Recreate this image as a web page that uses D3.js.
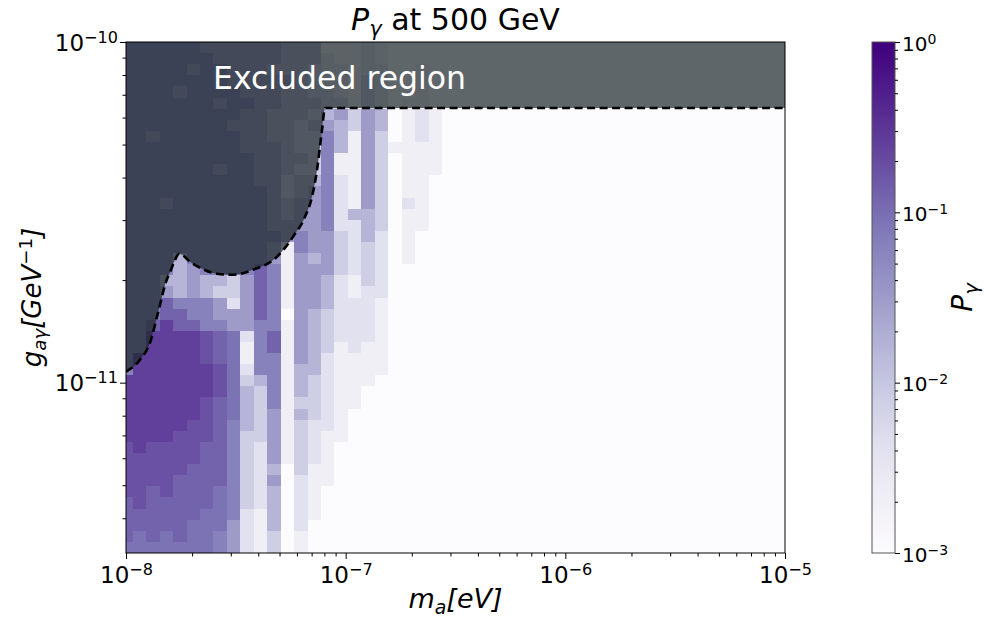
<!DOCTYPE html>
<html>
<head>
<meta charset="utf-8">
<script src="https://cdn.jsdelivr.net/npm/d3@7"></script>
<style>
  body { margin: 0; background: #fff; }
  svg { display: block; }
  text { font-family: "DejaVu Sans", sans-serif; fill: #000; }
</style>
</head>
<body>
<svg id="chart" width="987" height="628"></svg>
<script>
// ---- grid definition -------------------------------------------------
const massRange = [1e-8, 1e-5];            // m_a [eV], bin centres span this range
const massBins = 50;
const couplingRange = [Math.pow(10, -11.5), 1e-10]; // g_aγ [GeV^-1]
const couplingBins = 46;
const probRange = [1e-3, 1];

// Conversion probability P_γ: one string per coupling row (top row first),
// one character per mass bin (lowest mass first).
// digit d -> log10(P) = -3 + 0.3 d ; letters a..i are the half steps 0.5..8.5
const probRows = [
  "6666665555554441112100000" + "0000000000000000000000000",
  "6666666555554442112100000" + "0000000000000000000000000",
  "6666656655544432212200100" + "0000000000000000000000000",
  "6666666655555432213200100" + "0000000000000000000000000",
  "6666566665554433213200100" + "0000000000000000000000000",
  "6666666566554443313201100" + "0000000000000000000000000",
  "6666666665544434535401210" + "0000000000000000000000000",
  "6666666655544345435401210" + "0000000000000000000000000",
  "6656666665544336415301210" + "0000000000000000000000000",
  "6666666665554336415311110" + "0000000000000000000000000",
  "6666666666554436115301110" + "0000000000000000000000000",
  "6666666566554336115301110" + "0000000000000000000000000",
  "6666666666553446215301100" + "0000000000000000000000000",
  "6666666666653456215301100" + "0000000000000000000000000",
  "6665666666654556215302100" + "0000000000000000000000000",
  "6666666666654556244301100" + "0000000000000000000000000",
  "6666666666655556224301100" + "0000000000000000000000000",
  "6666666666665655324201000" + "0000000000000000000000000",
  "6666666666651655323201000" + "0000000000000000000000000",
  "6666466666651545323201000" + "0000000000000000000000000",
  "6666456666761555323200000" + "0000000000000000000000000",
  "6664454435761554213200000" + "0000000000000000000000000",
  "6665454335761554212200000" + "0000000000000000000000000",
  "6667666525761554222100000" + "0000000000000000000000000",
  "6667766555760543222100000" + "0000000000000000000000000",
  "6678776655661543222100000" + "0000000000000000000000000",
  "668888h7g2671543222100000" + "0000000000000000000000000",
  "668888h7g1671543121100000" + "0000000000000000000000000",
  "688888h7g1661542111100000" + "0000000000000000000000000",
  "6888888hg2661442111100000" + "0000000000000000000000000",
  "8888888hg3461432111000000" + "0000000000000000000000000",
  "8888888hg4361432110000000" + "0000000000000000000000000",
  "888888h7g4361332110000000" + "0000000000000000000000000",
  "888888h7g4351432100000000" + "0000000000000000000000000",
  "88888hh764351322100000000" + "0000000000000000000000000",
  "8888hhh763351321100000000" + "0000000000000000000000000",
  "h8hhhh7763251321000000000" + "0000000000000000000000000",
  "hhhhhh7763251321000000000" + "0000000000000000000000000",
  "hhhhh77763240311000000000" + "0000000000000000000000000",
  "hhhh777763250211000000000" + "0000000000000000000000000",
  "hh7h777g63240210000000000" + "0000000000000000000000000",
  "7h77777g63240210000000000" + "0000000000000000000000000",
  "777777gg62140210000000000" + "0000000000000000000000000",
  "77777ggg52140200000000000" + "0000000000000000000000000",
  "7g7g7gg652130100000000000" + "0000000000000000000000000",
  "ggggggg652130100000000000" + "0000000000000000000000000"
];

// Boundary of the excluded region (dashed curve), in data units
const boundaryMass = [1.000e-8, 1.158e-8, 1.286e-8, 1.399e-8, 1.521e-8, 1.603e-8, 1.672e-8,
  1.743e-8, 1.799e-8, 1.956e-8, 2.172e-8, 2.596e-8, 3.070e-8, 3.786e-8, 4.868e-8, 5.757e-8,
  6.529e-8, 7.027e-8, 7.406e-8, 7.804e-8, 8.054e-8, 1.000e-5];
const boundaryCoupling = [1.077e-11, 1.168e-11, 1.310e-11, 1.604e-11, 1.978e-11, 2.145e-11, 2.294e-11,
  2.389e-11, 2.373e-11, 2.263e-11, 2.174e-11, 2.088e-11, 2.074e-11, 2.145e-11, 2.342e-11, 2.681e-11,
  3.068e-11, 3.511e-11, 4.213e-11, 5.519e-11, 6.403e-11, 6.403e-11];

const massTicks = [1e-8, 1e-7, 1e-6, 1e-5];
const couplingTicks = [1e-11, 1e-10];
const probTicks = [1e-3, 1e-2, 1e-1, 1];

const titleText = " at 500 GeV";
const excludedLabel = "Excluded region";
const excludedLabelAt = [2.49e-8, 7.28e-11];

// ---- layout ----------------------------------------------------------
const plot = { left: 126, right: 785, top: 42, bottom: 553 };
const cbar = { left: 872, width: 23 };

const svg = d3.select("#chart");
const x = d3.scaleLog().domain(massRange).range([plot.left, plot.right]);
const y = d3.scaleLog().domain(couplingRange).range([plot.bottom, plot.top]);
const color = d3.scaleSequentialLog(d3.interpolatePurples).domain(probRange);
const yc = d3.scaleLog().domain(probRange).range([plot.bottom, plot.top]);

const level = c => (c >= "a" ? c.charCodeAt(0) - 97 + 0.5 : +c);
const probability = probRows.map(row => Array.from(row, c => Math.pow(10, -3 + 0.3 * level(c))));

// bin geometry: mass centres log-spaced, cells extend halfway to neighbours
const lm0 = Math.log10(massRange[0]), lm1 = Math.log10(massRange[1]);
const massCentres = d3.range(massBins).map(j => Math.pow(10, lm0 + j * (lm1 - lm0) / (massBins - 1)));
const massEdges = [massRange[0], ...d3.pairs(massCentres).map(([a, b]) => Math.sqrt(a * b)), massRange[1]];
const lg0 = Math.log10(couplingRange[0]), lg1 = Math.log10(couplingRange[1]);
const couplingEdges = d3.range(couplingBins + 1).map(i => Math.pow(10, lg0 + i * (lg1 - lg0) / couplingBins));

const cells = [];
probability.forEach((row, r) => {
  const b = couplingBins - 1 - r;
  row.forEach((p, j) => cells.push({ m0: massEdges[j], m1: massEdges[j + 1], g0: couplingEdges[b], g1: couplingEdges[b + 1], p }));
});

const defs = svg.append("defs");
defs.append("clipPath").attr("id", "plot-clip")
  .append("rect").attr("x", plot.left).attr("y", plot.top)
  .attr("width", plot.right - plot.left).attr("height", plot.bottom - plot.top);

const heat = svg.append("g").attr("clip-path", "url(#plot-clip)");
heat.append("g").attr("shape-rendering", "crispEdges")
  .selectAll("rect").data(cells).join("rect")
  .attr("x", d => x(d.m0))
  .attr("y", d => y(d.g1))
  .attr("width", d => x(d.m1) - x(d.m0) + 0.3)
  .attr("height", d => y(d.g0) - y(d.g1) + 0.3)
  .attr("fill", d => color(d.p));

// excluded region overlay
const boundary = boundaryMass.map((m, i) => ({ m, g: boundaryCoupling[i] }));
heat.append("path").datum(boundary)
  .attr("d", d3.area().x(d => x(d.m)).y0(y(couplingRange[1])).y1(d => y(d.g)).curve(d3.curveMonotoneX))
  .attr("fill", "rgb(28,39,42)").attr("fill-opacity", 0.7);
heat.append("path").datum(boundary)
  .attr("d", d3.line().x(d => x(d.m)).y(d => y(d.g)).curve(d3.curveMonotoneX))
  .attr("fill", "none").attr("stroke", "#000").attr("stroke-width", 2.6)
  .attr("stroke-dasharray", "8,4.5");

svg.append("text")
  .attr("x", x(excludedLabelAt[0])).attr("y", y(excludedLabelAt[1]))
  .attr("font-size", 31.5).style("fill", "#fff").text(excludedLabel);

// ---- axes ------------------------------------------------------------
function minorTicks(domain) {
  const out = [];
  const e0 = Math.floor(Math.log10(domain[0])), e1 = Math.ceil(Math.log10(domain[1]));
  for (let e = e0; e < e1; e++) for (let k = 2; k <= 9; k++) {
    const v = k * Math.pow(10, e);
    if (v >= domain[0] * 0.999 && v <= domain[1] * 1.001) out.push(v);
  }
  return out;
}
function powLabel(text, v) {
  const e = Math.round(Math.log10(v));
  text.append("tspan").text("10");
  text.append("tspan").attr("dy", "-0.48em").attr("font-size", "0.7em")
    .text(e < 0 ? "\u2212" + (-e) : String(e));
}
function styleAxis(g) {
  g.select(".domain").remove();
  g.selectAll(".tick line").attr("stroke", "#000").attr("stroke-width", 1);
}

const tickFont = 23;
// x axis
svg.append("g").attr("transform", `translate(0,${plot.bottom})`)
  .call(d3.axisBottom(x).tickValues(minorTicks(massRange)).tickSize(3.5).tickFormat(() => ""))
  .call(styleAxis);
const gx = svg.append("g").attr("transform", `translate(0,${plot.bottom})`)
  .call(d3.axisBottom(x).tickValues(massTicks).tickSize(6).tickFormat(() => ""))
  .call(styleAxis);
gx.selectAll(".tick").append("text")
  .attr("y", 30).attr("text-anchor", "middle").attr("font-size", tickFont)
  .each(function (d) { powLabel(d3.select(this), d); });

// y axis
svg.append("g").attr("transform", `translate(${plot.left},0)`)
  .call(d3.axisLeft(y).tickValues(minorTicks(couplingRange)).tickSize(3.5).tickFormat(() => ""))
  .call(styleAxis);
const gy = svg.append("g").attr("transform", `translate(${plot.left},0)`)
  .call(d3.axisLeft(y).tickValues(couplingTicks).tickSize(6).tickFormat(() => ""))
  .call(styleAxis);
gy.selectAll(".tick").append("text")
  .attr("x", -8).attr("y", 8).attr("text-anchor", "end").attr("font-size", tickFont)
  .each(function (d) { powLabel(d3.select(this), d); });

// frame
svg.append("rect").attr("x", plot.left).attr("y", plot.top)
  .attr("width", plot.right - plot.left).attr("height", plot.bottom - plot.top)
  .attr("fill", "none").attr("stroke", "#000").attr("stroke-width", 1);

// title
const title = svg.append("text").attr("x", (plot.left + plot.right) / 2).attr("y", 30)
  .attr("text-anchor", "middle").attr("font-size", 30);
title.append("tspan").attr("font-style", "italic").text("P");
title.append("tspan").attr("font-style", "italic").attr("font-size", "0.7em").attr("dy", "0.3em").text("γ");
title.append("tspan").attr("dy", "-0.21em").text(titleText);

// x label
const xl = svg.append("text").attr("x", (plot.left + plot.right) / 2).attr("y", 608)
  .attr("text-anchor", "middle").attr("font-size", 27).attr("font-style", "italic");
xl.append("tspan").text("m");
xl.append("tspan").attr("font-size", "0.7em").attr("dy", "0.3em").text("a");
xl.append("tspan").attr("dy", "-0.21em").text("[eV]");

// y label
const yl = svg.append("text")
  .attr("transform", `translate(41,${(plot.top + plot.bottom) / 2}) rotate(-90)`)
  .attr("text-anchor", "middle").attr("font-size", 26).attr("font-style", "italic");
yl.append("tspan").text("g");
yl.append("tspan").attr("font-size", "0.7em").attr("dy", "0.3em").text("aγ");
yl.append("tspan").attr("dy", "-0.21em").text("[GeV");
yl.append("tspan").attr("font-size", "0.7em").attr("dy", "-0.5em").attr("font-style", "normal").text("\u22121");
yl.append("tspan").attr("dy", "0.35em").text("]");

// ---- colorbar --------------------------------------------------------
const grad = defs.append("linearGradient").attr("id", "cbar-grad")
  .attr("x1", 0).attr("y1", 1).attr("x2", 0).attr("y2", 0);
d3.range(0, 1.0001, 0.02).forEach(t => {
  grad.append("stop").attr("offset", t).attr("stop-color", color(Math.pow(10, -3 + 3 * t)));
});
svg.append("rect").attr("x", cbar.left).attr("y", plot.top)
  .attr("width", cbar.width).attr("height", plot.bottom - plot.top)
  .attr("fill", "url(#cbar-grad)").attr("stroke", "#555").attr("stroke-width", 1);

const cbx = cbar.left + cbar.width;
svg.append("g").attr("transform", `translate(${cbx},0)`)
  .call(d3.axisRight(yc).tickValues(minorTicks(probRange)).tickSize(3).tickFormat(() => ""))
  .call(styleAxis);
const gc = svg.append("g").attr("transform", `translate(${cbx},0)`)
  .call(d3.axisRight(yc).tickValues(probTicks).tickSize(5).tickFormat(() => ""))
  .call(styleAxis);
gc.selectAll(".tick").append("text")
  .attr("x", 7).attr("y", 8).attr("text-anchor", "start").attr("font-size", 20)
  .each(function (d) { powLabel(d3.select(this), d); });

const cl = svg.append("text")
  .attr("transform", `translate(972,${(plot.top + plot.bottom) / 2}) rotate(-90)`)
  .attr("text-anchor", "middle").attr("font-size", 28).attr("font-style", "italic");
cl.append("tspan").text("P");
cl.append("tspan").attr("font-size", "0.7em").attr("dy", "0.3em").text("γ");
</script>
</body>
</html>
